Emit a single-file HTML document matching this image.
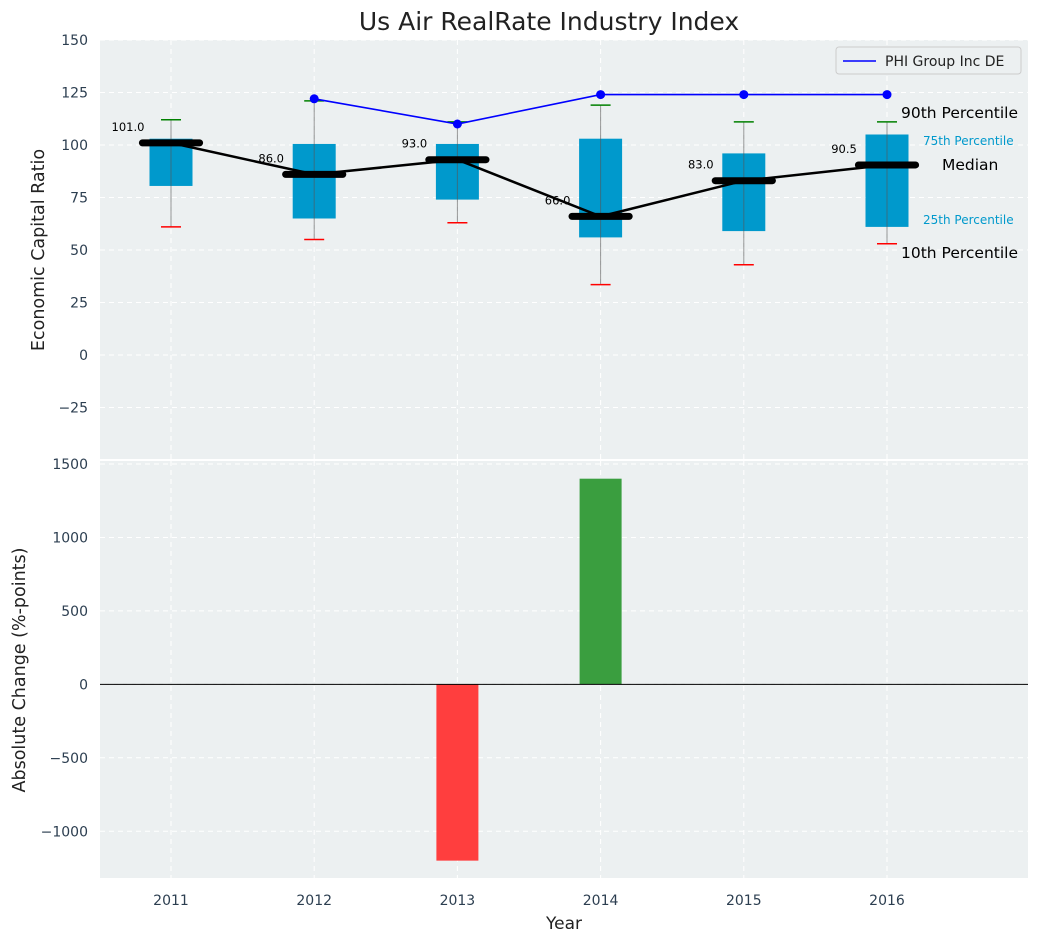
<!DOCTYPE html>
<html><head><meta charset="utf-8"><style>
body{margin:0;background:#fff;font-family:"Liberation Sans","DejaVu Sans",sans-serif}
svg text{font-family:"DejaVu Sans","Liberation Sans",sans-serif}
</style></head><body>
<svg id="c" width="1039" height="942" xmlns="http://www.w3.org/2000/svg"></svg>
<script>
const years=[2011,2012,2013,2014,2015,2016];
const p10=[61,55,63,33.5,43,53];
const q1=[80.5,65,74,56,59,61];
const median=[101,86,93,66,83,90.5];
const q3=[103,100.5,100.5,103,96,105];
const p90=[112,121,111,119,111,111];
const phiYears=[2012,2013,2014,2015,2016];
const phiVals=[122,110,124,124,124];
const changes=[0,0,-1200,1400,0,0];
const topTicks=[-25,0,25,50,75,100,125,150];
const botTicks=[-1000,-500,0,500,1000,1500];

const NS='http://www.w3.org/2000/svg';
const svg=document.getElementById('c');
function el(t,a,txt){const e=document.createElementNS(NS,t);for(const k in a)e.setAttribute(k,a[k]);if(txt!==undefined)e.textContent=txt;svg.appendChild(e);return e;}
const L=100,R=1028;
const x=v=>171+(v-2011)*143.2;
const yT=v=>40+(150-v)/200*420;
const yB=v=>464+(1500-v)/2825*415;

let e=el('rect',{x:L,y:40,width:R-L,height:419,fill:'#ecf0f1'});

e=el('rect',{x:L,y:461,width:R-L,height:417,fill:'#ecf0f1'});


years.forEach(v=>{el('line',{x1:x(v),x2:x(v),y1:40,y2:459,stroke:'#fff','stroke-dasharray':'5,4'});el('line',{x1:x(v),x2:x(v),y1:461,y2:878,stroke:'#fff','stroke-dasharray':'5,4'});
 e=el('text',{x:x(v),y:905,'text-anchor':'middle','font-size':14,fill:'#2c3e50'},v);
 });
topTicks.forEach(v=>{el('line',{x1:L,x2:R,y1:yT(v),y2:yT(v),stroke:'#fff','stroke-dasharray':'5,4'});
 e=el('text',{x:88,y:yT(v)+5,'text-anchor':'end','font-size':14,fill:'#2c3e50'},v<0?'\u2212'+(-v):v);
 });
botTicks.forEach(v=>{el('line',{x1:L,x2:R,y1:yB(v),y2:yB(v),stroke:'#fff','stroke-dasharray':'5,4'});
 e=el('text',{x:88,y:yB(v)+5,'text-anchor':'end','font-size':14,fill:'#2c3e50'},v<0?'\u2212'+(-v):v);
 });

const bw=21.5;
years.forEach((v,i)=>{
 e=el('rect',{x:x(v)-bw,y:yT(q3[i]),width:2*bw,height:yT(q1[i])-yT(q3[i]),fill:'#0099cc'});
 
 e=el('line',{x1:x(v),x2:x(v),y1:yT(p10[i]),y2:yT(p90[i]),stroke:'#555','stroke-opacity':0.6,'stroke-width':1});
 
 e=el('line',{x1:x(v)-10,x2:x(v)+10,y1:yT(p90[i]),y2:yT(p90[i]),stroke:'green','stroke-width':1.5});
 
 e=el('line',{x1:x(v)-10,x2:x(v)+10,y1:yT(p10[i]),y2:yT(p10[i]),stroke:'red','stroke-width':1.5});
 
});
e=el('polyline',{points:years.map((v,i)=>x(v)+','+yT(median[i])).join(' '),fill:'none',stroke:'#000','stroke-width':2.5});

years.forEach((v,i)=>{
 const mw=28.6;
 e=el('line',{x1:x(v)-mw,x2:x(v)+mw,y1:yT(median[i]),y2:yT(median[i]),stroke:'#000','stroke-width':7,'stroke-linecap':'round'});
 
 e=el('text',{x:x(v)-43,y:yT(median[i])-12,'text-anchor':'middle','font-size':11.5,fill:'#000'},median[i].toFixed(1));
 
});
e=el('polyline',{points:phiYears.map((v,i)=>x(v)+','+yT(phiVals[i])).join(' '),fill:'none',stroke:'blue','stroke-width':1.6});

phiYears.forEach((v,i)=>{e=el('circle',{cx:x(v),cy:yT(phiVals[i]),r:4.5,fill:'blue'});
 });

[[901,118,'90th Percentile',15.5,'#000'],[923,145,'75th Percentile',12,'#0099cc'],[942,170,'Median',15.5,'#000'],[923,224,'25th Percentile',12,'#0099cc'],[901,258,'10th Percentile',15.5,'#000']].forEach(a=>{
 e=el('text',{x:a[0],y:a[1],'font-size':a[3],fill:a[4]},a[2]);});

e=el('rect',{x:836,y:47,width:185,height:27,rx:3,fill:'#ecf0f1',stroke:'#ccc'});

el('line',{x1:843,x2:876,y1:61,y2:61,stroke:'blue','stroke-width':1.6});
e=el('text',{x:885,y:66,'font-size':14,fill:'#222'},'PHI Group Inc DE');


years.forEach((v,i)=>{if(!changes[i])return;
 const y0=yB(0),y1=yB(changes[i]);
 e=el('rect',{x:x(v)-21,y:Math.min(y0,y1),width:42,height:Math.abs(y1-y0),fill:changes[i]>0?'#3a9e3f':'#ff3e3e'});
 });
el('line',{x1:L,x2:R,y1:yB(0),y2:yB(0),stroke:'#000','stroke-width':1});

e=el('text',{x:549,y:30,'text-anchor':'middle','font-size':25,fill:'#222'},'Us Air RealRate Industry Index');

e=el('text',{x:564,y:929,'text-anchor':'middle','font-size':17,fill:'#222'},'Year');

e=el('text',{x:44,y:250,'text-anchor':'middle','font-size':17.5,fill:'#222',transform:'rotate(-90 44 250)'},'Economic Capital Ratio');

e=el('text',{x:25,y:670,'text-anchor':'middle','font-size':17.5,fill:'#222',transform:'rotate(-90 25 670)'},'Absolute Change (%-points)');

</script></body></html>
